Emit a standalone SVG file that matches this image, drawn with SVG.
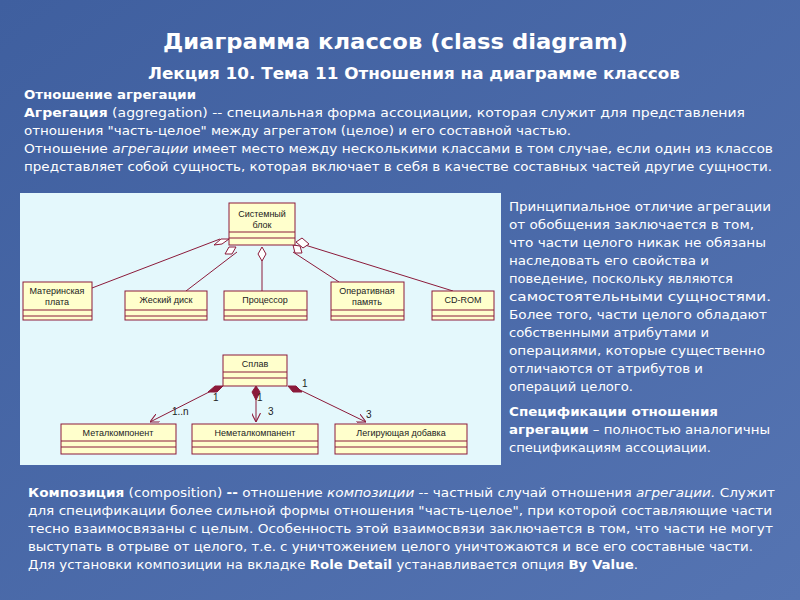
<svg xmlns="http://www.w3.org/2000/svg" width="800" height="600" viewBox="0 0 800 600">
<defs>
<linearGradient id="bg" x1="0" y1="0" x2="1" y2="1"><stop offset="0" stop-color="#3f5f9f"/><stop offset="1" stop-color="#5574b2"/></linearGradient>
<marker id="open" viewBox="0 0 10 10" refX="10" refY="5" markerWidth="9" markerHeight="9" orient="auto"><path d="M0,0 L10,5 L0,10" fill="none" stroke="#8b1a3a" stroke-width="1.2"/></marker>
</defs>
<style>
.t{font-family:"DejaVu Sans",Verdana,sans-serif;fill:#fff}
.b{font-weight:bold}
.box{fill:#ffffcc;stroke:#8b1a3a;stroke-width:1}
.lbl{font-family:"Liberation Sans",Arial,sans-serif;font-size:9px;fill:#222;text-anchor:middle}
.ln{stroke:#8b1a3a;stroke-width:1;fill:none}
.dh{fill:#fff;stroke:#8b1a3a;stroke-width:1}
.df{fill:#8b1a3a;stroke:#8b1a3a}
.m{font-family:"Liberation Sans",Arial,sans-serif;font-size:10px;fill:#222}
</style>
<rect width="800" height="600" fill="url(#bg)"/>
<text class="t b" x="163" y="49" font-size="21" textLength="465" lengthAdjust="spacingAndGlyphs">Диаграмма классов (class diagram)</text>
<text class="t b" x="148" y="79" font-size="15" textLength="532" lengthAdjust="spacingAndGlyphs">Лекция 10. Тема 11 Отношения на диаграмме классов</text>
<g class="t" font-size="13" lengthAdjust="spacingAndGlyphs">
<text x="24" y="99" class="b" textLength="172" lengthAdjust="spacingAndGlyphs">Отношение агрегации</text>
<text x="24" y="117" textLength="721" lengthAdjust="spacingAndGlyphs"><tspan class="b">Агрегация</tspan> (aggregation) -- специальная форма ассоциации, которая служит для представления</text>
<text x="24" y="135" textLength="547" lengthAdjust="spacingAndGlyphs">отношения "часть-целое" между агрегатом (целое) и его составной частью.</text>
<text x="24" y="153" textLength="749" lengthAdjust="spacingAndGlyphs">Отношение <tspan font-style="italic">агрегации</tspan> имеет место между несколькими классами в том случае, если один из классов</text>
<text x="24" y="171" textLength="748" lengthAdjust="spacingAndGlyphs">представляет собой сущность, которая включает в себя в качестве составных частей другие сущности.</text>
</g>
<g class="t" font-size="13">
<text x="509" y="211" textLength="262" lengthAdjust="spacingAndGlyphs">Принципиальное отличие агрегации</text>
<text x="509" y="229" textLength="245" lengthAdjust="spacingAndGlyphs">от обобщения  заключается в том,</text>
<text x="509" y="247" textLength="257" lengthAdjust="spacingAndGlyphs">что части целого никак не обязаны</text>
<text x="509" y="265" textLength="200" lengthAdjust="spacingAndGlyphs">наследовать его свойства и</text>
<text x="509" y="283" textLength="224" lengthAdjust="spacingAndGlyphs">поведение, поскольку являются</text>
<text x="509" y="301" textLength="262" lengthAdjust="spacingAndGlyphs">самостоятельными сущностями.</text>
<text x="509" y="319" textLength="258" lengthAdjust="spacingAndGlyphs">Более того, части целого обладают</text>
<text x="509" y="337" textLength="200" lengthAdjust="spacingAndGlyphs">собственными атрибутами и</text>
<text x="509" y="355" textLength="256" lengthAdjust="spacingAndGlyphs">операциями, которые существенно</text>
<text x="509" y="373" textLength="194" lengthAdjust="spacingAndGlyphs">отличаются от атрибутов и</text>
<text x="509" y="391" textLength="124" lengthAdjust="spacingAndGlyphs">операций целого.</text>
<text x="509" y="416" class="b" textLength="209" lengthAdjust="spacingAndGlyphs">Спецификации отношения</text>
<text x="509" y="434" textLength="261" lengthAdjust="spacingAndGlyphs"><tspan class="b">агрегации</tspan> – полностью аналогичны</text>
<text x="509" y="452" textLength="202" lengthAdjust="spacingAndGlyphs">спецификациям ассоциации.</text>
</g>
<g class="t" font-size="13">
<text x="28" y="497" textLength="747" lengthAdjust="spacingAndGlyphs"><tspan class="b">Композиция</tspan> (composition) <tspan class="b">--</tspan> отношение <tspan font-style="italic">композиции</tspan> -- частный случай отношения <tspan font-style="italic">агрегации.</tspan> Служит</text>
<text x="28" y="515" textLength="744" lengthAdjust="spacingAndGlyphs">для спецификации более сильной формы отношения "часть-целое", при которой составляющие части</text>
<text x="28" y="533" textLength="745" lengthAdjust="spacingAndGlyphs">тесно взаимосвязаны с целым. Особенность этой взаимосвязи заключается в том, что части не могут</text>
<text x="28" y="551" textLength="725" lengthAdjust="spacingAndGlyphs">выступать в отрыве от целого, т.е. с уничтожением целого уничтожаются и все его составные части.</text>
<text x="28" y="569" textLength="610" lengthAdjust="spacingAndGlyphs">Для установки композиции на вкладке <tspan class="b">Role Detail</tspan> устанавливается опция <tspan class="b">By Value</tspan>.</text>
</g>
<rect x="20" y="193" width="481" height="272" fill="#e4f8fc"/>
<g id="connectors">
<line class="ln" x1="92" y1="288" x2="220" y2="239"/>
<line class="ln" x1="186" y1="291" x2="237" y2="252"/>
<line class="ln" x1="262" y1="291" x2="262" y2="260"/>
<line class="ln" x1="339" y1="282" x2="293" y2="252"/>
<line class="ln" x1="453" y1="291" x2="305" y2="245"/>
<path class="dh" d="M229,239 L221,239 L214,245 L222,244 Z"/>
<path class="dh" d="M236,247 L229,247 L225,254 L232,254 Z"/>
<path class="dh" d="M262,247 L266,254 L262,261 L258,254 Z"/>
<path class="dh" d="M293,245 L300,246 L302,253 L295,253 Z"/>
<path class="dh" d="M296,242 L302,238 L309,244 L303,248 Z"/>
<line class="ln" x1="213" y1="390" x2="150" y2="422" marker-end="url(#open)"/>
<line class="ln" x1="256" y1="398" x2="256" y2="422" marker-end="url(#open)"/>
<line class="ln" x1="300" y1="390" x2="366" y2="422" marker-end="url(#open)"/>
<path class="df" d="M223,386 L215,386 L208,392 L217,392 Z"/>
<path class="df" d="M256,386 L260,392 L256,400 L252,392 Z"/>
<path class="df" d="M288,386 L296,386 L302,392 L293,392 Z"/>
<text class="m" x="213" y="401">1</text>
<text class="m" x="172" y="415">1..n</text>
<text class="m" x="257" y="401">1</text>
<text class="m" x="268" y="415">3</text>
<text class="m" x="302" y="387">1</text>
<text class="m" x="366" y="418">3</text>
</g>
<g id="n-sys"><rect class="box" x="229" y="203" width="66" height="42"/><line class="ln" x1="229" y1="232" x2="295" y2="232"/><line class="ln" x1="229" y1="238" x2="295" y2="238"/><text class="lbl" x="262" y="217">Системный</text><text class="lbl" x="262" y="228">блок</text></g>
<g id="n-mb"><rect class="box" x="23" y="282" width="69" height="38"/><line class="ln" x1="23" y1="310" x2="92" y2="310"/><line class="ln" x1="23" y1="316" x2="92" y2="316"/><text class="lbl" x="57" y="294">Материнская</text><text class="lbl" x="57" y="305">плата</text></g>
<g id="n-hd"><rect class="box" x="125" y="291" width="82" height="29"/><line class="ln" x1="125" y1="310" x2="207" y2="310"/><line class="ln" x1="125" y1="316" x2="207" y2="316"/><text class="lbl" x="166" y="303">Жеский диск</text></g>
<g id="n-cpu"><rect class="box" x="224" y="291" width="83" height="29"/><line class="ln" x1="224" y1="310" x2="307" y2="310"/><line class="ln" x1="224" y1="316" x2="307" y2="316"/><text class="lbl" x="265" y="303">Процессор</text></g>
<g id="n-ram"><rect class="box" x="331" y="282" width="73" height="38"/><line class="ln" x1="331" y1="310" x2="404" y2="310"/><line class="ln" x1="331" y1="316" x2="404" y2="316"/><text class="lbl" x="367" y="294">Оперативная</text><text class="lbl" x="367" y="305">память</text></g>
<g id="n-cd"><rect class="box" x="432" y="291" width="62" height="29"/><line class="ln" x1="432" y1="310" x2="494" y2="310"/><line class="ln" x1="432" y1="316" x2="494" y2="316"/><text class="lbl" x="463" y="303">CD-ROM</text></g>
<g id="n-splav"><rect class="box" x="223" y="355" width="64" height="31"/><line class="ln" x1="223" y1="372" x2="287" y2="372"/><line class="ln" x1="223" y1="378" x2="287" y2="378"/><text class="lbl" x="255" y="367">Сплав</text></g>
<g id="n-met"><rect class="box" x="61" y="424" width="115" height="30"/><line class="ln" x1="61" y1="441" x2="176" y2="441"/><line class="ln" x1="61" y1="447" x2="176" y2="447"/><text class="lbl" x="118" y="436">Металкомпонент</text></g>
<g id="n-nemet"><rect class="box" x="192" y="424" width="126" height="30"/><line class="ln" x1="192" y1="441" x2="318" y2="441"/><line class="ln" x1="192" y1="447" x2="318" y2="447"/><text class="lbl" x="255" y="436">Неметалкомпанент</text></g>
<g id="n-leg"><rect class="box" x="335" y="424" width="132" height="30"/><line class="ln" x1="335" y1="441" x2="467" y2="441"/><line class="ln" x1="335" y1="447" x2="467" y2="447"/><text class="lbl" x="401" y="436">Легирующая добавка</text></g>
</svg>
